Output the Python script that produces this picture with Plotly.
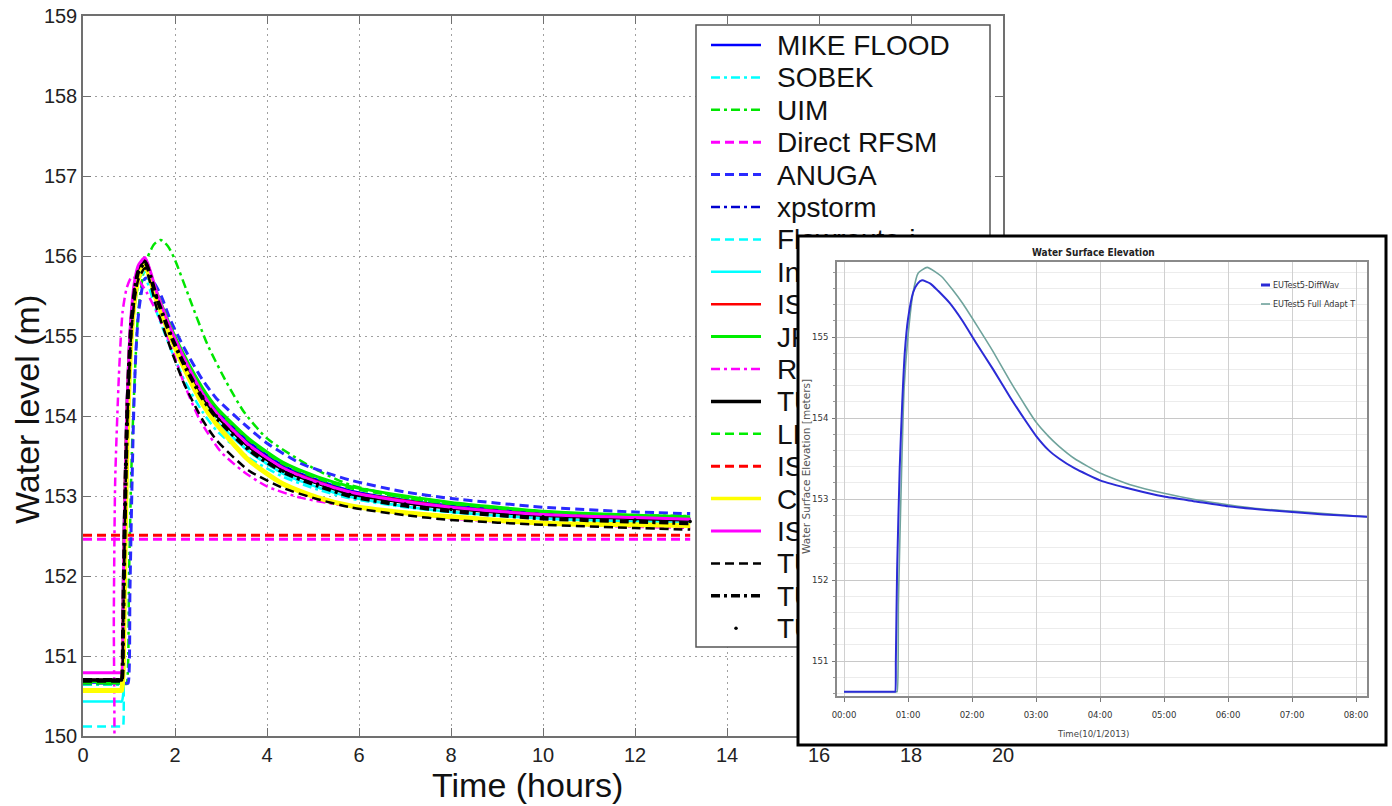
import plotly.graph_objects as go

W, H = 1392, 806

# ---------------- main chart data (hours, water level m) ----------------
T_COMMON = [0, 0.81, 0.84, 0.87, 0.9, 0.93, 0.96, 1.0, 1.05, 1.12, 1.2, 1.35, 1.6, 1.9, 2.2,
            2.6, 2.9, 3.6, 4.35, 5.1, 5.8, 7.0, 8.0, 10.0, 12.0, 13.2]

V_MIKE = [150.67, 150.67, 150.67, 151.2, 152.3, 153.2, 153.95, 154.6, 155.15, 155.55, 155.78,
          155.90, 155.52, 155.10, 154.74, 154.32, 154.08, 153.68, 153.38, 153.20, 153.07,
          152.95, 152.88, 152.79, 152.74, 152.72]
V_SOBEK = [150.64, 150.64, 150.64, 150.9, 151.8, 152.8, 153.6, 154.3, 154.9, 155.35, 155.6,
           155.72, 155.30, 154.85, 154.45, 154.05, 153.82, 153.48, 153.24, 153.08, 152.97,
           152.86, 152.80, 152.72, 152.68, 152.67]
V_XPSTORM = [150.68, 150.68, 150.68, 151.3, 152.4, 153.3, 154.0, 154.6, 155.1, 155.5, 155.75,
             155.88, 155.50, 155.08, 154.72, 154.30, 154.06, 153.66, 153.37, 153.19, 153.06,
             152.94, 152.87, 152.78, 152.73, 152.71]
V_INFOWORKS = [150.43, 150.43, 150.43, 150.5, 151.2, 152.4, 153.4, 154.3, 154.95, 155.45,
               155.72, 155.85, 155.42, 154.98, 154.6, 154.18, 153.94, 153.56, 153.28, 153.11,
               152.99, 152.87, 152.80, 152.72, 152.68, 152.66]
V_ISIS2D = [150.70, 150.70, 150.70, 151.4, 152.5, 153.35, 154.05, 154.65, 155.18, 155.6,
            155.83, 155.95, 155.52, 155.08, 154.70, 154.27, 154.03, 153.64, 153.35, 153.18,
            153.05, 152.94, 152.86, 152.77, 152.73, 152.71]
V_JFLOW = [150.68, 150.68, 150.68, 151.3, 152.4, 153.3, 154.0, 154.6, 155.12, 155.55, 155.8,
           155.92, 155.55, 155.12, 154.76, 154.35, 154.11, 153.72, 153.42, 153.24, 153.12,
           153.0, 152.92, 152.81, 152.76, 152.74]
V_TUFLOW = [150.70, 150.70, 150.70, 151.50, 152.60, 153.40, 154.10, 154.70, 155.20, 155.60,
            155.82, 155.95, 155.50, 155.05, 154.68, 154.25, 154.01, 153.62, 153.33, 153.16,
            153.03, 152.92, 152.85, 152.76, 152.72, 152.70]
V_LISFLOOD = [150.66, 150.66, 150.66, 151.0, 152.0, 153.0, 153.8, 154.45, 155.0, 155.45,
              155.72, 155.86, 155.52, 155.10, 154.75, 154.33, 154.09, 153.70, 153.40, 153.22,
              153.10, 152.98, 152.90, 152.80, 152.75, 152.73]
V_CEASG = [150.57, 150.57, 150.57, 150.8, 151.8, 152.9, 153.7, 154.4, 155.0, 155.45, 155.72,
           155.88, 155.45, 155.0, 154.6, 154.15, 153.90, 153.45, 153.15, 152.98, 152.88,
           152.79, 152.74, 152.66, 152.64, 152.63]
V_ISIS2DGPU = [150.79, 150.79, 150.79, 151.6, 152.7, 153.5, 154.2, 154.8, 155.3, 155.68,
               155.88, 155.98, 155.55, 155.1, 154.72, 154.28, 154.04, 153.64, 153.35, 153.17,
               153.05, 152.93, 152.86, 152.77, 152.73, 152.71]
V_TUFLOWFV = [150.68, 150.68, 150.68, 151.3, 152.3, 153.2, 153.9, 154.5, 155.05, 155.45, 155.7,
              155.85, 155.35, 154.85, 154.4, 153.95, 153.7, 153.32, 153.10, 152.96, 152.86,
              152.76, 152.70, 152.64, 152.60, 152.58]
V_TUFLOWGPU = [150.70, 150.70, 150.70, 151.3, 152.4, 153.3, 154.0, 154.6, 155.15, 155.55,
               155.8, 155.92, 155.48, 155.02, 154.64, 154.22, 153.98, 153.58, 153.30, 153.13,
               153.0, 152.88, 152.81, 152.72, 152.68, 152.66]
V_TUFLOWCLA = [150.70, 150.70, 150.70, 151.4, 152.5, 153.35, 154.05, 154.65, 155.15, 155.58,
               155.8, 155.93, 155.48, 155.03, 154.66, 154.24, 154.0, 153.60, 153.31, 153.15,
               153.02, 152.9, 152.83, 152.74, 152.7, 152.68]

T_UIM = [0, 0.92, 0.95, 1.0, 1.05, 1.09, 1.15, 1.2, 1.3, 1.4, 1.55, 1.69, 1.85, 2.0, 2.33,
         2.7, 3.12, 3.5, 4.0, 5.0, 5.8, 7.0, 8.0, 10.0, 12.0, 13.2]
V_UIM = [150.65, 150.65, 150.65, 152.0, 153.3, 154.0, 154.8, 155.3, 155.75, 155.98, 156.15,
         156.2, 156.12, 155.95, 155.45, 154.9, 154.42, 154.05, 153.72, 153.35, 153.14, 152.98,
         152.9, 152.8, 152.76, 152.75]

T_ANUGA = [0, 0.95, 0.98, 1.02, 1.06, 1.1, 1.15, 1.22, 1.35, 1.5, 1.7, 1.9, 2.2, 2.6, 2.9,
           3.6, 4.0, 4.72, 5.8, 7.0, 8.0, 10.0, 12.0, 13.2]
V_ANUGA = [150.66, 150.66, 150.66, 151.8, 153.0, 154.0, 154.8, 155.35, 155.72, 155.7, 155.5,
           155.2, 154.85, 154.45, 154.22, 153.85, 153.66, 153.41, 153.2, 153.05, 152.97,
           152.86, 152.8, 152.78]

T_FLOWROUTE = [0, 0.85, 0.87, 0.88, 0.92, 0.96, 1.0, 1.05, 1.12, 1.2, 1.35, 1.6, 1.9, 2.2,
               2.6, 2.9, 3.6, 4.35, 5.1, 5.8, 7.0, 8.0, 10.0, 12.0, 13.2]
V_FLOWROUTE = [150.12, 150.12, 150.12, 151.0, 152.6, 153.7, 154.45, 155.0, 155.45, 155.7,
               155.8, 155.42, 154.98, 154.6, 154.18, 153.94, 153.56, 153.28, 153.11, 152.99,
               152.87, 152.80, 152.72, 152.68, 152.66]

T_RFSMEDA = [0, 0.64, 0.66, 0.67, 0.7, 0.78, 0.86, 0.95, 1.06, 1.2, 1.38, 1.6, 1.89, 2.2,
             2.54, 3.0, 3.5, 4.0, 4.72, 6.0, 8.0, 10.0, 13.2]
V_RFSMEDA = [149.5, 149.5, 149.5, 151.5, 153.2, 154.5, 155.3, 155.6, 155.74, 155.7, 155.55,
             155.3, 154.91, 154.4, 153.95, 153.55, 153.3, 153.12, 152.98, 152.85, 152.72,
             152.65, 152.6]

T_FLAT = [0, 13.2]
V_DIRECTRFSM = [152.46, 152.46]
V_ISISFAST = [152.51, 152.51]

MODEL_NAMES = ["MIKE FLOOD", "SOBEK", "UIM", "Direct RFSM", "ANUGA", "xpstorm", "Flowroute-i",
               "InfoWorks ICM", "ISIS 2D", "JFLOW+", "RFSM EDA", "TUFLOW", "LISFLOOD-FP",
               "ISIS FAST", "Ceasg", "ISIS 2D GPU", "TUFLOW FV", "TUFLOW GPU", "TUFLOW CLA"]
MODEL_DATA = {
    "MIKE FLOOD": (T_COMMON, V_MIKE), "SOBEK": (T_COMMON, V_SOBEK), "UIM": (T_UIM, V_UIM),
    "Direct RFSM": (T_FLAT, V_DIRECTRFSM), "ANUGA": (T_ANUGA, V_ANUGA),
    "xpstorm": (T_COMMON, V_XPSTORM), "Flowroute-i": (T_FLOWROUTE, V_FLOWROUTE),
    "InfoWorks ICM": (T_COMMON, V_INFOWORKS), "ISIS 2D": (T_COMMON, V_ISIS2D),
    "JFLOW+": (T_COMMON, V_JFLOW), "RFSM EDA": (T_RFSMEDA, V_RFSMEDA),
    "TUFLOW": (T_COMMON, V_TUFLOW), "LISFLOOD-FP": (T_COMMON, V_LISFLOOD),
    "ISIS FAST": (T_FLAT, V_ISISFAST), "Ceasg": (T_COMMON, V_CEASG),
    "ISIS 2D GPU": (T_COMMON, V_ISIS2DGPU), "TUFLOW FV": (T_COMMON, V_TUFLOWFV),
    "TUFLOW GPU": (T_COMMON, V_TUFLOWGPU), "TUFLOW CLA": (T_COMMON, V_TUFLOWCLA),
}
MAIN_XTICKS = list(range(0, 21, 2))
MAIN_YTICKS = list(range(150, 160))

# ---------------- inset data ----------------
T_DIFFWAV = [0, 0.78, 0.80, 0.81, 0.83, 0.87, 0.91, 0.95, 1.0, 1.08, 1.15, 1.22, 1.35, 1.47,
             1.65, 1.85, 2.07, 2.33, 2.6, 2.85, 3.0, 3.2, 3.36, 3.6, 4.0, 4.5, 5.0, 5.5, 6.0,
             6.5, 7.0, 7.5, 8.2]
V_DIFFWAV = [150.62, 150.62, 150.62, 151.0, 152.13, 153.37, 154.19, 154.81, 155.22, 155.55,
             155.66, 155.70, 155.66, 155.57, 155.42, 155.2, 154.92, 154.6, 154.25, 153.95,
             153.78, 153.6, 153.5, 153.38, 153.23, 153.12, 153.03, 152.97, 152.91, 152.87,
             152.84, 152.81, 152.78]
T_FULLADAPT = [0, 0.81, 0.83, 0.85, 0.90, 0.94, 1.0, 1.08, 1.16, 1.30, 1.52, 1.7, 1.85, 2.07,
               2.33, 2.6, 2.85, 3.0, 3.2, 3.36, 3.6, 4.0, 4.5, 5.0, 5.5, 6.0, 6.5, 7.0, 7.5,
               8.2]
V_FULLADAPT = [150.62, 150.62, 150.62, 151.72, 153.36, 154.38, 155.01, 155.55, 155.79, 155.86,
               155.75, 155.58, 155.42, 155.15, 154.82, 154.45, 154.13, 153.95, 153.77, 153.65,
               153.5, 153.32, 153.17, 153.07, 152.99, 152.93, 152.88, 152.85, 152.82, 152.78]
INSET_NAMES = ["EUTest5-DiffWav", "EUTest5 Full Adapt T"]
INSET_XTICKS = list(range(0, 9))
INSET_XLABELS = ["00:00", "01:00", "02:00", "03:00", "04:00", "05:00", "06:00", "07:00", "08:00"]
INSET_YTICKS = [151, 152, 153, 154, 155]

# ---------------- styles ----------------
DASH = {"solid": None, "dash": "9px,5px", "dashdot": "9px,4px,3px,4px"}
STYLE = {
    "MIKE FLOOD": ("#0000ff", "solid", 2.5), "SOBEK": ("#00ffff", "dashdot", 2.5),
    "UIM": ("#00e600", "dashdot", 2.5), "Direct RFSM": ("#ff00ff", "dash", 3),
    "ANUGA": ("#2a2aff", "dash", 3), "xpstorm": ("#0000d0", "dashdot", 2.5),
    "Flowroute-i": ("#00ffff", "dash", 2.5), "InfoWorks ICM": ("#00ffff", "solid", 2.5),
    "ISIS 2D": ("#ff0000", "solid", 2.5), "JFLOW+": ("#00ee00", "solid", 3),
    "RFSM EDA": ("#ff00ff", "dashdot", 2.5), "TUFLOW": ("#000000", "solid", 3.5),
    "LISFLOOD-FP": ("#00ee00", "dash", 2.5), "ISIS FAST": ("#ff0000", "dash", 3),
    "Ceasg": ("#ffff00", "solid", 5), "ISIS 2D GPU": ("#ff00ff", "solid", 3),
    "TUFLOW FV": ("#000000", "dash", 2.5), "TUFLOW GPU": ("#000000", "dashdot", 4),
    "TUFLOW CLA": ("#000000", "markers", 3.5),
}
INSET_COLORS = ["#2b2bd6", "#6fa39c"]

# ---------------- geometry (pixels) ----------------
M_L, M_R, M_T, M_B = 83, 1003, 16, 736
M_XR, M_YR = [0, 20], [150, 159]
BOX_L, BOX_R, BOX_T, BOX_B = 798, 1386, 236, 745
I_L, I_R, I_T, I_B = 837, 1367, 262, 696
I_XR, I_YR = [-7 / 64, 523 / 64], [155 - 359 / 81, 155 + 75 / 81]
LEG_L, LEG_R, LEG_T, LEG_B = 696, 990, 25, 647
LEG_ROW0, LEG_DY, LEG_TXT_DY = 45, 32.4, 3
LEG_S0, LEG_S1, LEG_TX = 711, 761, 777
FONT = "Liberation Sans, Arial, sans-serif"
NARROW = "Liberation Sans Narrow, Arial Narrow, DejaVu Sans Condensed, Liberation Sans, sans-serif"
WIDE = "DejaVu Sans, Verdana, sans-serif"


def px2x(px):
    return M_XR[0] + (px - M_L) / (M_R - M_L) * (M_XR[1] - M_XR[0])


def px2y(py):
    return M_YR[0] + (M_B - py) / (M_B - M_T) * (M_YR[1] - M_YR[0])


def dom_x(a, b):
    return [a / W, b / W]


def dom_y(top, bot):
    return [1 - bot / H, 1 - top / H]


fig = go.Figure()

# main curves
for name in MODEL_NAMES:
    t, v = MODEL_DATA[name]
    color, dash, width = STYLE[name]
    if dash == "markers":
        fig.add_trace(go.Scatter(x=t, y=v, mode="markers", name=name,
                                 marker=dict(color=color, size=width), showlegend=False,
                                 hoverinfo="skip"))
    else:
        fig.add_trace(go.Scatter(x=t, y=v, mode="lines", name=name,
                                 line=dict(color=color, width=width, dash=DASH[dash],
                                           shape="spline", smoothing=0.6),
                                 showlegend=False, hoverinfo="skip"))

# main chart's own legend (drawn inside the axes so the inset can hide it)
for i, name in enumerate(MODEL_NAMES):
    color, dash, width = STYLE[name]
    yy = px2y(LEG_ROW0 + LEG_DY * i)
    if dash == "markers":
        fig.add_trace(go.Scatter(x=[px2x((LEG_S0 + LEG_S1) / 2)], y=[yy], mode="markers",
                                 marker=dict(color=color, size=width), showlegend=False,
                                 hoverinfo="skip"))
    else:
        fig.add_trace(go.Scatter(x=[px2x(LEG_S0), px2x(LEG_S1)], y=[yy, yy], mode="lines",
                                 line=dict(color=color, width=min(width, 3.5), dash=DASH[dash]),
                                 showlegend=False, hoverinfo="skip"))
fig.add_trace(go.Scatter(x=[px2x(LEG_TX)] * len(MODEL_NAMES),
                         y=[px2y(LEG_ROW0 + LEG_TXT_DY + LEG_DY * i)
                            for i in range(len(MODEL_NAMES))],
                         text=MODEL_NAMES, mode="text", textposition="middle right",
                         textfont=dict(family=FONT, size=28, color="#111"),
                         showlegend=False, hoverinfo="skip"))

# cover subplot (x2/y2) for the inset background
fig.add_trace(go.Scatter(x=[None], y=[None], xaxis="x2", yaxis="y2", showlegend=False,
                         hoverinfo="skip"))

# inset curves
for name, t, v, col, w in [(INSET_NAMES[1], T_FULLADAPT, V_FULLADAPT, INSET_COLORS[1], 1.6),
                           (INSET_NAMES[0], T_DIFFWAV, V_DIFFWAV, INSET_COLORS[0], 2.0)]:
    fig.add_trace(go.Scatter(x=t, y=v, mode="lines", name=name, xaxis="x3", yaxis="y3",
                             line=dict(color=col, width=w, shape="spline", smoothing=0.5),
                             showlegend=False, hoverinfo="skip"))

shapes = [
    # main legend box
    dict(type="rect", xref="x", yref="y", x0=px2x(LEG_L), x1=px2x(LEG_R),
         y0=px2y(LEG_B), y1=px2y(LEG_T), layer="between", fillcolor="white",
         line=dict(color="#555", width=1.5)),
    # inset white background (covers main chart)
    dict(type="rect", xref="x2", yref="y2", x0=0, x1=1, y0=0, y1=1, layer="below",
         fillcolor="white", line=dict(width=0)),
    # inset black border
    dict(type="rect", xref="paper", yref="paper", x0=BOX_L / W, x1=BOX_R / W,
         y0=1 - BOX_B / H, y1=1 - BOX_T / H, layer="above", fillcolor="rgba(0,0,0,0)",
         line=dict(color="black", width=3)),
]
# inset legend samples
for yy, col, w in [(285, INSET_COLORS[0], 3), (304, INSET_COLORS[1], 1.6)]:
    shapes.append(dict(type="line", xref="paper", yref="paper", x0=1261 / W, x1=1270 / W,
                       y0=1 - yy / H, y1=1 - yy / H, layer="above",
                       line=dict(color=col, width=w)))

annotations = [
    dict(text="Time (hours)", x=527 / W, y=1 - 785 / H, xref="paper", yref="paper",
         showarrow=False, font=dict(family=FONT, size=34, color="#111"),
         xanchor="center", yanchor="middle"),
    dict(text="Water level (m)", x=27 / W, y=1 - 410 / H, xref="paper", yref="paper",
         showarrow=False, textangle=-90, font=dict(family=FONT, size=34, color="#111"),
         xanchor="center", yanchor="middle"),
    dict(text="<b>Water Surface Elevation</b>", x=1093 / W, y=1 - 252 / H, xref="paper",
         yref="paper", showarrow=False, font=dict(family=NARROW, size=10, color="#222"),
         xanchor="center", yanchor="middle"),
    dict(text="Water Surface Elevation [meters]", x=806 / W, y=1 - 466 / H, xref="paper",
         yref="paper", showarrow=False, textangle=-90,
         font=dict(family=WIDE, size=10.5, color="#555"), xanchor="center",
         yanchor="middle"),
    dict(text="Time(10/1/2013)", x=1093 / W, y=1 - 733 / H, xref="paper", yref="paper",
         showarrow=False, font=dict(family=NARROW, size=9.5, color="#444"),
         xanchor="center", yanchor="middle"),
]
for yy, name in [(285, INSET_NAMES[0]), (304, INSET_NAMES[1])]:
    annotations.append(dict(text=name, x=1271 / W, y=1 - yy / H, xref="paper", yref="paper",
                            showarrow=False, font=dict(family=NARROW, size=9, color="#333"),
                            xanchor="left", yanchor="middle"))

fig.update_layout(
    width=W, height=H, margin=dict(l=0, r=0, t=0, b=0),
    paper_bgcolor="white", plot_bgcolor="white", hovermode=False, showlegend=False,
    shapes=shapes, annotations=annotations,
    xaxis=dict(domain=dom_x(M_L, M_R), range=M_XR, tickvals=MAIN_XTICKS, showgrid=True,
               gridcolor="#a0a0a0", griddash="2px,4px", gridwidth=1, zeroline=False,
               showline=True, linecolor="#707070", linewidth=1.5, mirror="ticks",
               ticks="inside", ticklen=8, tickwidth=1.2, tickcolor="#707070",
               tickfont=dict(family=FONT, size=20, color="#222"), automargin=False),
    yaxis=dict(domain=dom_y(M_T, M_B), range=M_YR, tickvals=MAIN_YTICKS, showgrid=True,
               gridcolor="#a0a0a0", griddash="2px,4px", gridwidth=1, zeroline=False,
               showline=True, linecolor="#707070", linewidth=1.5, mirror="ticks",
               ticks="inside", ticklen=8, tickwidth=1.2, tickcolor="#707070",
               tickfont=dict(family=FONT, size=20, color="#222"), automargin=False),
    xaxis2=dict(domain=dom_x(BOX_L, BOX_R), range=[0, 1], visible=False, anchor="y2"),
    yaxis2=dict(domain=dom_y(BOX_T, BOX_B), range=[0, 1], visible=False, anchor="x2"),
    xaxis3=dict(domain=dom_x(I_L, I_R), range=I_XR, anchor="y3", tickvals=INSET_XTICKS,
                ticktext=INSET_XLABELS, showgrid=True, gridcolor="#d0d0d0", gridwidth=1,
                zeroline=False, showline=True, linecolor="#8a8a8a", linewidth=1.5,
                mirror=True, ticks="outside", ticklen=4, tickcolor="#777",
                ticklabelstandoff=5,
                tickfont=dict(family=NARROW, size=9.5, color="#333"), automargin=False),
    yaxis3=dict(domain=dom_y(I_T, I_B), range=I_YR, anchor="x3", tickvals=INSET_YTICKS,
                showgrid=True, gridcolor="#c8c8c8", gridwidth=1, zeroline=False,
                showline=True, linecolor="#8a8a8a", linewidth=1.5, mirror=True,
                ticks="outside", ticklen=3, tickcolor="#777", ticklabelstandoff=2,
                minor=dict(dtick=0.2, showgrid=True, gridcolor="#ececec", ticks="outside",
                           ticklen=2, tickcolor="#999"),
                tickfont=dict(family=NARROW, size=9.5, color="#333"), automargin=False),
)

fig.write_html("out.html", config={"displayModeBar": False},
               post_script="document.body.style.margin='0';")
